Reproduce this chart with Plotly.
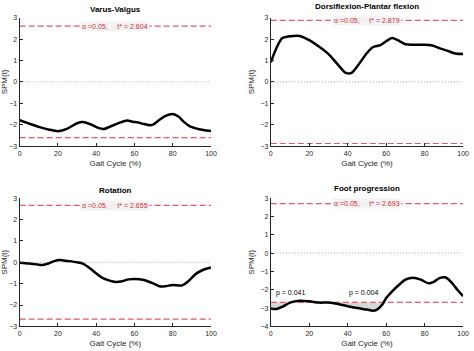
import numpy as np
import plotly.graph_objects as go

# ---- data ----
titles = ["Varus-Valgus", "Dorsiflexion-Plantar flexion", "Rotation", "Foot progression"]
thresholds = [2.604, 2.879, 2.655, 2.693]
y_ranges = [[-3, 3], [-3, 3], [-3, 3], [-4, 3]]

vv_x = [0, 5, 10, 15, 20, 25, 30, 33, 37, 41, 44, 47, 51, 56, 59, 62, 65, 68, 70, 73, 76, 80, 83, 86, 89, 92, 96, 100]
vv_y = [-1.79, -1.95, -2.1, -2.22, -2.3, -2.18, -1.93, -1.87, -1.98, -2.15, -2.2, -2.1, -1.95, -1.8, -1.86, -1.9, -1.97, -2.02, -1.98, -1.78, -1.6, -1.5, -1.62, -1.88, -2.08, -2.17, -2.25, -2.3]

df_x = [0, 3, 6, 9, 15, 20, 25, 30, 35, 39, 42, 45, 50, 53, 57, 60, 63, 66, 70, 75, 80, 84, 88, 92, 96, 100]
df_y = [0.92, 1.6, 2.05, 2.12, 2.15, 1.95, 1.65, 1.3, 0.8, 0.42, 0.42, 0.73, 1.35, 1.62, 1.72, 1.9, 2.05, 1.95, 1.76, 1.74, 1.74, 1.7, 1.57, 1.45, 1.33, 1.3]

rot_x = [0, 5, 9, 12, 15, 18, 21, 25, 30, 33, 37, 40, 43, 47, 50, 53, 57, 60, 65, 70, 73, 76, 80, 85, 88, 92, 96, 100]
rot_y = [-0.02, -0.06, -0.1, -0.13, -0.06, 0.05, 0.1, 0.06, 0.0, -0.06, -0.3, -0.52, -0.72, -0.86, -0.92, -0.9, -0.8, -0.78, -0.83, -1.0, -1.12, -1.12, -1.06, -1.08, -0.9, -0.55, -0.35, -0.25]

fp_x = [0, 3, 6, 10, 15, 20, 25, 30, 35, 40, 45, 50, 53, 55, 58, 60, 63, 67, 70, 74, 78, 82, 85, 88, 91, 94, 97, 100]
fp_y = [-3.02, -3.05, -2.93, -2.7, -2.6, -2.63, -2.7, -2.7, -2.78, -2.9, -3.0, -3.08, -3.14, -3.1, -2.8, -2.45, -2.1, -1.7, -1.45, -1.35, -1.45, -1.65, -1.55, -1.35, -1.33, -1.6, -2.0, -2.35]

p_labels = ["p = 0.041", "p = 0.004"]
p_label_x = [10, 48]
p_label_y = [-2.15, -2.15]

series_x = [vv_x, df_x, rot_x, fp_x]
series_y = [vv_y, df_y, rot_y, fp_y]

# ---- layout geometry ----
W, H = 474, 351
x_doms = [[17 / W, 212 / W], [273 / W, 469 / W]]
y_doms = [[1 - 145 / H, 1 - 14 / H], [1 - 329 / H, 1 - 198 / H]]
title_px_y = [6, 3, 190, 188]

FONT = "Liberation Sans, Arial, sans-serif"
RED_LINE = "#e05a68"
RED_TEXT = "#d03036"
AX = "#262626"

fig = go.Figure()
layout = dict(
    width=W, height=H, margin=dict(l=0, r=0, t=0, b=0),
    paper_bgcolor="white", plot_bgcolor="white", showlegend=False,
    font=dict(family=FONT, size=7, color=AX),
)
annotations = []

for i in range(4):
    row, col = divmod(i, 2)
    ax = "" if i == 0 else str(i + 1)
    xa, ya = "x" + ax, "y" + ax
    thr = thresholds[i]
    yr = y_ranges[i]
    layout["xaxis" + ax] = dict(
        domain=x_doms[col], range=[0, 100], anchor=ya,
        tickvals=[0, 20, 40, 60, 80, 100], ticks="inside", ticklen=3,
        tickcolor=AX, showline=True, linecolor=AX, linewidth=1,
        showgrid=False, zeroline=False, tickfont=dict(size=7, color=AX),
        title=dict(text="Gait Cycle (%)", font=dict(size=8, color=AX), standoff=4),
    )
    layout["yaxis" + ax] = dict(
        domain=y_doms[row], range=yr, anchor=xa,
        dtick=1, ticks="inside", ticklen=3, tickcolor=AX,
        showline=True, linecolor=AX, linewidth=1,
        showgrid=False, zeroline=False, tickfont=dict(size=7, color=AX),
        title=dict(text="SPM{t}", font=dict(size=8, color=AX), standoff=4),
    )
    # zero line
    fig.add_trace(go.Scatter(x=[0, 100], y=[0, 0], mode="lines", xaxis=xa, yaxis=ya,
                             line=dict(color="#8a8a8a", width=0.8, dash="1px,2px")))
    # supra-threshold clusters (fill)
    yv = np.array(series_y[i])
    if np.any(yv < -thr):
        fig.add_trace(go.Scatter(x=series_x[i], y=[-thr] * len(yv), mode="lines",
                                 xaxis=xa, yaxis=ya, line=dict(width=0, color="rgba(0,0,0,0)")))
        fig.add_trace(go.Scatter(x=series_x[i], y=np.minimum(yv, -thr), mode="lines",
                                 xaxis=xa, yaxis=ya, fill="tonexty",
                                 fillcolor="rgba(205,205,205,0.8)",
                                 line=dict(width=0, shape="spline", color="rgba(0,0,0,0)")))
    # thresholds
    for s in (1, -1):
        fig.add_trace(go.Scatter(x=[0, 100], y=[s * thr, s * thr], mode="lines",
                                 xaxis=xa, yaxis=ya,
                                 line=dict(color=RED_LINE, width=1.2, dash="6px,3px")))
    # SPM curve
    fig.add_trace(go.Scatter(x=series_x[i], y=series_y[i], mode="lines", xaxis=xa, yaxis=ya,
                             line=dict(color="black", width=2.5, shape="spline", smoothing=0.8)))
    # threshold label
    annotations.append(dict(
        x=50, y=thr, xref=xa, yref=ya, showarrow=False, xanchor="center",
        text="\u03b1 =0.05,     t* = %.3f" % thr,
        font=dict(size=7, color=RED_TEXT, family=FONT),
        bgcolor="rgba(242,242,242,0.95)", borderpad=1,
    ))
    # title
    annotations.append(dict(
        x=(x_doms[col][0] + x_doms[col][1]) / 2, y=1 - title_px_y[i] / H,
        xref="paper", yref="paper", xanchor="center", yanchor="middle", showarrow=False,
        text="<b>%s</b>" % titles[i], font=dict(size=8, color="black", family=FONT),
    ))

for k in range(len(p_labels)):
    annotations.append(dict(
        x=p_label_x[k], y=p_label_y[k], xref="x4", yref="y4", showarrow=False,
        xanchor="center", text=p_labels[k], font=dict(size=7, color="black", family=FONT),
    ))

layout["annotations"] = annotations
fig.update_layout(**layout)
fig.write_html("out.html")
